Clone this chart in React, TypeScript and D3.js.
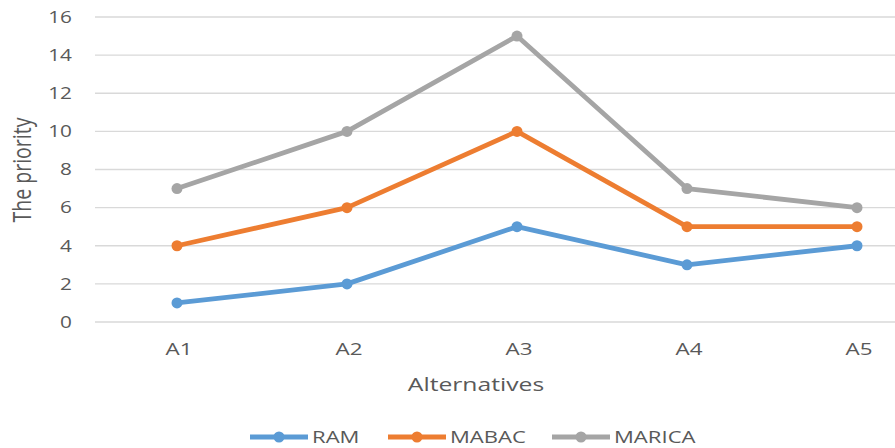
import React from "react";
import * as d3 from "d3";

const categories = ["A1", "A2", "A3", "A4", "A5"];
const seriesNames = ["RAM", "MABAC", "MARICA"];
const ramValues = [1, 2, 5, 3, 4];
const mabacValues = [4, 6, 10, 5, 5];
const maricaValues = [7, 10, 15, 7, 6];
const yTicks = [0, 2, 4, 6, 8, 10, 12, 14, 16];
const colors = ["#5B9BD5", "#ED7D31", "#A5A5A5"];

const W = 895;
const H = 448;
const font = "'Open Sans', 'Liberation Sans', sans-serif";
const textColor = "#595959";
const SX = 1.3;

function T({ x, y, anchor = "start", size, sx = SX, children, dy }: any) {
  return (
    <g transform={`translate(${x},${y}) scale(${sx},1)`}>
      <text x={0} y={0} dy={dy} textAnchor={anchor} fontFamily={font} fontSize={size} fill={textColor}>
        {children}
      </text>
    </g>
  );
}

export default function App() {
  const x = d3.scalePoint<string>().domain(categories).range([177, 857]);
  const y = d3.scaleLinear().domain([0, 16]).range([322, 17]);
  const data = [ramValues, mabacValues, maricaValues];
  const line = d3
    .line<number>()
    .x((_, i) => x(categories[i]) as number)
    .y((d) => y(d));
  const legendX = [250, 388, 552];
  return (
    <svg
      width={W}
      height={H}
      style={{ position: "absolute", left: 0, top: 0, background: "#fff" }}
    >
      <rect x={0} y={0} width={W} height={H} fill="#fff" />
      {yTicks.map((t) => (
        <g key={t}>
          <line x1={95} x2={W} y1={y(t)} y2={y(t)} stroke="#d9d9d9" strokeWidth={1.3} />
          <T x={72} y={y(t)} dy="0.36em" anchor="end" size={16}>
            {t}
          </T>
        </g>
      ))}
      {categories.map((c) => (
        <T key={c} x={(x(c) as number) + 2} y={355} anchor="middle" size={16} sx={1.4}>
          {c}
        </T>
      ))}
      <T x={476} y={391} anchor="middle" size={19} sx={1.3}>
        Alternatives
      </T>
      <text
        transform={`translate(22,170) rotate(-90) scale(1,1.3)`}
        dy="0.35em"
        textAnchor="middle"
        fontFamily={font}
        fontSize={19.5}
        fill={textColor}
      >
        The priority
      </text>
      {data.map((vals, si) => (
        <g key={si}>
          <path d={line(vals) || ""} fill="none" stroke={colors[si]} strokeWidth={4.8} strokeLinejoin="round" />
          {vals.map((v, i) => (
            <circle key={i} cx={x(categories[i])} cy={y(v)} r={5.5} fill={colors[si]} />
          ))}
        </g>
      ))}
      {seriesNames.map((n, si) => (
        <g key={n}>
          <line x1={legendX[si]} x2={legendX[si] + 58} y1={437} y2={437} stroke={colors[si]} strokeWidth={4.8} />
          <circle cx={legendX[si] + 29} cy={437} r={5.5} fill={colors[si]} />
          <T x={legendX[si] + 62} y={437} dy="0.36em" size={17} sx={1.3}>
            {n}
          </T>
        </g>
      ))}
    </svg>
  );
}
